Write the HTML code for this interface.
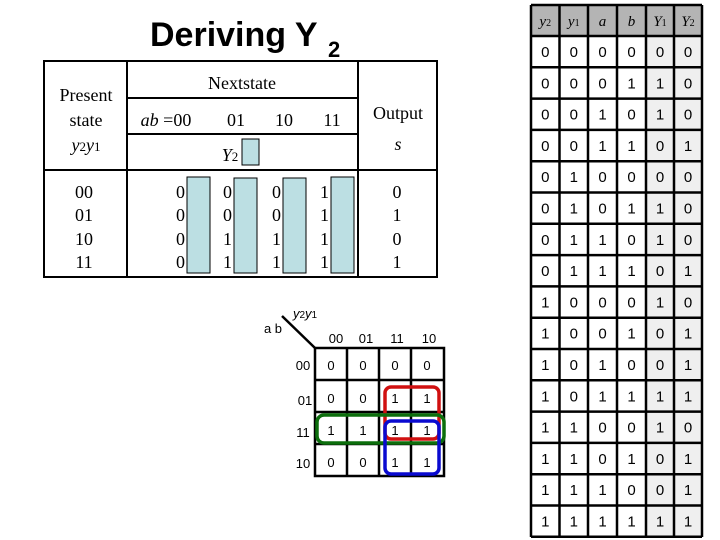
<!DOCTYPE html>
<html><head><meta charset="utf-8"><style>body{margin:0;background:#fff}svg{display:block}</style></head><body>
<svg width="720" height="540" viewBox="0 0 720 540" xmlns="http://www.w3.org/2000/svg">
<rect width="720" height="540" fill="#fff"/>
<text x="150" y="46" font-family="Liberation Sans, sans-serif" font-weight="bold" font-size="34">Deriving Y</text>
<text x="328" y="57" font-family="Liberation Sans, sans-serif" font-weight="bold" font-size="22">2</text>
<g stroke="#000" stroke-width="2" fill="none">
<rect x="44" y="61" width="393" height="216"/>
<line x1="127" y1="61" x2="127" y2="277"/>
<line x1="358" y1="61" x2="358" y2="277"/>
<line x1="127" y1="98" x2="358" y2="98"/>
<line x1="127" y1="134" x2="358" y2="134"/>
<line x1="44" y1="170" x2="437" y2="170"/>
</g>
<g font-family="Liberation Serif, serif" font-size="18" fill="#000" text-anchor="middle">
<text x="86" y="101">Present</text>
<text x="86" y="126">state</text>
<text x="86" y="151" font-style="italic">y<tspan font-size="13" font-style="normal">2</tspan>y<tspan font-size="13" font-style="normal">1</tspan></text>
<text x="242" y="89">Nextstate</text>
<text x="166" y="126"><tspan font-style="italic">ab</tspan> =00</text>
<text x="236" y="126">01</text>
<text x="284" y="126">10</text>
<text x="332" y="126">11</text>
<text x="398" y="119">Output</text>
<text x="398" y="150" font-style="italic">s</text>
<text x="230" y="161" font-style="italic">Y<tspan font-size="13" font-style="normal">2</tspan></text>
<text x="84" y="198">00</text><text x="84" y="221">01</text><text x="84" y="245">10</text><text x="84" y="268">11</text>
<text x="397" y="198">0</text><text x="397" y="221">1</text><text x="397" y="245">0</text><text x="397" y="268">1</text>
</g>
<g fill="#bcdfe3" stroke="#000" stroke-width="1">
<rect x="242" y="139" width="17" height="26"/>
<rect x="187" y="177" width="23" height="96"/>
<rect x="234" y="178" width="23" height="95"/>
<rect x="283" y="178" width="23" height="95"/>
<rect x="331" y="177" width="23" height="96"/>
</g>
<g font-family="Liberation Serif, serif" font-size="18" fill="#000" text-anchor="end">
<text x="185" y="198">0</text><text x="185" y="221">0</text><text x="185" y="245">0</text><text x="185" y="268">0</text>
<text x="232" y="198">0</text><text x="232" y="221">0</text><text x="232" y="245">1</text><text x="232" y="268">1</text>
<text x="281" y="198">0</text><text x="281" y="221">0</text><text x="281" y="245">1</text><text x="281" y="268">1</text>
<text x="329" y="198">1</text><text x="329" y="221">1</text><text x="329" y="245">1</text><text x="329" y="268">1</text>
</g>
<g stroke="#000" stroke-width="2.5" fill="none">
<rect x="315" y="348" width="129" height="128"/>
<line x1="347" y1="348" x2="347" y2="476"/><line x1="379" y1="348" x2="379" y2="476"/><line x1="411" y1="348" x2="411" y2="476"/>
<line x1="315" y1="380" x2="444" y2="380"/><line x1="315" y1="412" x2="444" y2="412"/><line x1="315" y1="444" x2="444" y2="444"/>
<line x1="282" y1="316" x2="315" y2="348"/>
</g>
<g font-family="Liberation Sans, sans-serif" font-size="13" fill="#000" text-anchor="middle">
<text x="273" y="333">a b</text>
<text x="305" y="318" font-style="italic">y<tspan font-size="10" font-style="normal">2</tspan>y<tspan font-size="10" font-style="normal">1</tspan></text>
<text x="336" y="343">00</text><text x="366" y="343">01</text><text x="397" y="343">11</text><text x="429" y="343">10</text>
<text x="303" y="370">00</text><text x="305" y="405">01</text><text x="303" y="437">11</text><text x="303" y="468">10</text>
<text x="331" y="370">0</text><text x="363" y="370">0</text><text x="395" y="370">0</text><text x="427" y="370">0</text>
<text x="331" y="403">0</text><text x="363" y="403">0</text><text x="395" y="403">1</text><text x="427" y="403">1</text>
<text x="331" y="435">1</text><text x="363" y="435">1</text><text x="395" y="435">1</text><text x="427" y="435">1</text>
<text x="331" y="467">0</text><text x="363" y="467">0</text><text x="395" y="467">1</text><text x="427" y="467">1</text>
</g>
<g fill="none" stroke-width="3.5">
<rect x="385" y="387" width="54" height="52" rx="6" stroke="#d01010"/>
<rect x="317" y="415" width="127" height="28" rx="7" stroke="#0c6e0c"/>
<rect x="385" y="421" width="54" height="53" rx="6" stroke="#0a0ad0"/>
</g>
<rect x="531" y="5" width="171" height="31" fill="#b4b4b4"/>
<rect x="646" y="36" width="56" height="501" fill="#efefef"/>
<g stroke="#000" stroke-width="2.5" fill="none" id="tt"></g>
<g id="ttxt" font-family="Liberation Sans, sans-serif" font-size="15" text-anchor="middle"></g>
<script>
var tt=document.getElementById('tt'),tx=document.getElementById('ttxt'),ns='http://www.w3.org/2000/svg';
var xs=[531,559.5,588,617,646,674,702];
function ln(a,b,c,d){var l=document.createElementNS(ns,'line');l.setAttribute('x1',a);l.setAttribute('y1',b);l.setAttribute('x2',c);l.setAttribute('y2',d);tt.appendChild(l);}
ln(531,5,702,5);
for(var r=0;r<=16;r++){var y=36+r*31.3;ln(531,y,702,y);}
xs.forEach(function(x){ln(x,5,x,537);});
function t(x,y,s,it){var e=document.createElementNS(ns,'text');e.setAttribute('x',x);e.setAttribute('y',y);if(it){e.setAttribute('font-style','italic');e.setAttribute('font-family','Liberation Serif, serif');e.setAttribute('font-size','15');}e.textContent=s;tx.appendChild(e);return e;}
var h=['y','y','a','b','Y','Y'],sub=['2','1','','','1','2'];
for(var i=0;i<6;i++){var cx=(xs[i]+xs[i+1])/2;var e=t(cx,26,h[i],1);if(sub[i]){var ts=document.createElementNS(ns,'tspan');ts.setAttribute('font-size','10');ts.setAttribute('font-style','normal');ts.textContent=sub[i];e.appendChild(ts);}}
var Y1=[0,1,1,0,0,1,1,0,1,0,0,1,1,0,0,1],Y2=[0,0,0,1,0,0,0,1,0,1,1,1,0,1,1,1];
for(var r=0;r<16;r++){var y=36+r*31.3+21;var v=[(r>>3)&1,(r>>2)&1,(r>>1)&1,r&1,Y1[r],Y2[r]];for(var i=0;i<6;i++)t((xs[i]+xs[i+1])/2,y,String(v[i]));}
</script>
</svg>
</body></html>
